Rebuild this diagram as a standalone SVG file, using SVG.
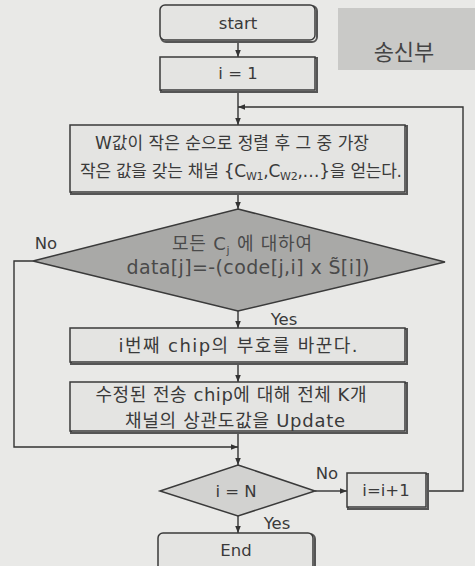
<svg xmlns="http://www.w3.org/2000/svg" width="475" height="566" viewBox="0 0 475 566">
<defs>
<marker id="ah" viewBox="0 0 10 10" refX="10" refY="5" markerWidth="7" markerHeight="7" orient="auto" markerUnits="userSpaceOnUse"><path d="M0,1 L10,5 L0,9 z" fill="#333"/></marker>
</defs>
<style>
.box{fill:#e4e4e2;stroke:#3a3a3a;stroke-width:1.5}
.sh{fill:none;stroke:#555;stroke-width:2}
.t{font-family:"DejaVu Sans","Noto Sans CJK KR",sans-serif;font-size:15px;fill:#3a3a3a;text-anchor:middle}
.n{font-size:16.5px}
.k{font-family:"DejaVu Sans","Noto Sans CJK KR",sans-serif;font-size:17px;fill:#3a3a3a;text-anchor:middle}
.c{fill:none;stroke:#333;stroke-width:1.4}
</style>
<rect x="0" y="0" width="475" height="566" fill="#e9e9e7"/>
<g id="label">
<rect x="338" y="8" width="137" height="62" fill="#c9c9c7"/>
<text x="404" y="60" class="k" style="font-size:22px;fill:#444">송신부</text>
</g>
<g id="connectors">
<line class="c" x1="238" y1="41" x2="238" y2="57" marker-end="url(#ah)"/>
<line class="c" x1="238" y1="91" x2="238" y2="125" marker-end="url(#ah)"/>
<line class="c" x1="238" y1="193" x2="238" y2="209" marker-end="url(#ah)"/>
<line class="c" x1="238" y1="311" x2="238" y2="328" marker-end="url(#ah)"/>
<line class="c" x1="238" y1="363" x2="238" y2="382" marker-end="url(#ah)"/>
<line class="c" x1="238" y1="432" x2="238" y2="465" marker-end="url(#ah)"/>
<polyline class="c" points="33,261 14,261 14,447 238,447" marker-end="url(#ah)"/>
<line class="c" x1="315" y1="491" x2="347" y2="491" marker-end="url(#ah)"/>
<polyline class="c" points="427,491 463,491 463,107 238,107" marker-end="url(#ah)"/>
<line class="c" x1="238" y1="516" x2="238" y2="533" marker-end="url(#ah)"/>
<text x="46" y="249" class="t n">No</text>
<text x="284" y="325" class="t n">Yes</text>
<text x="327" y="479" class="t n">No</text>
<text x="277" y="529" class="t n">Yes</text>
</g>
<g id="start">
<rect x="161" y="6" width="156" height="36" rx="5" class="sh"/>
<rect x="160" y="5" width="155" height="35" rx="5" class="box"/>
<text x="238" y="29" class="t n">start</text>
</g>
<g id="init">
<rect x="161" y="58" width="156" height="34" class="sh"/>
<rect x="160" y="57" width="155" height="33" class="box"/>
<text x="238" y="79" class="t n">i = 1</text>
</g>
<g id="sort">
<rect x="71" y="126" width="336" height="68" class="sh"/>
<rect x="70" y="125" width="335" height="67" class="box"/>
<text x="232" y="149" class="k" textLength="274" lengthAdjust="spacing">W값이 작은 순으로 정렬 후 그 중 가장</text>
<text x="241" y="177" class="k" textLength="322" lengthAdjust="spacing">작은 값을 갖는 채널 {C<tspan dy="3" style="font-size:11px">W1</tspan><tspan dy="-3">,C</tspan><tspan dy="3" style="font-size:11px">W2</tspan><tspan dy="-3">,…}을 얻는다.</tspan></text>
</g>
<g id="cond">
<polygon points="238,209 445,262 238,311 33,261" fill="#a9a9a7" stroke="#3a3a3a" stroke-width="1.5"/>
<text x="242" y="250" class="k" style="fill:#4a4a4a;font-size:18px" textLength="140" lengthAdjust="spacing">모든 C<tspan dy="4" style="font-size:11px">j</tspan><tspan dy="-4"> 에 대하여</tspan></text>
<text x="248" y="274" class="t" style="fill:#4a4a4a;font-size:19px" textLength="243" lengthAdjust="spacing">data[j]=-(code[j,i] x S̃[i])</text>
</g>
<g id="flip">
<rect x="71" y="329" width="336" height="35" class="sh"/>
<rect x="70" y="328" width="335" height="34" class="box"/>
<text x="238" y="352" class="k" style="font-size:18px" textLength="239" lengthAdjust="spacing">i번째 chip의 부호를 바꾼다.</text>
</g>
<g id="update">
<rect x="71" y="383" width="336" height="50" class="sh"/>
<rect x="70" y="382" width="335" height="49" class="box"/>
<text x="231" y="401" class="k" style="font-size:18px" textLength="271" lengthAdjust="spacing">수정된 전송 chip에 대해 전체 K개</text>
<text x="235" y="427" class="k" style="font-size:18px" textLength="220" lengthAdjust="spacing">채널의 상관도값을 Update</text>
</g>
<g id="check">
<polygon points="238,465 315,491 238,516 160,491" fill="#d2d2d0" stroke="#3a3a3a" stroke-width="1.5"/>
<text x="236" y="497" class="t n">i = N</text>
</g>
<g id="inc">
<rect x="348" y="474" width="80" height="35" class="sh"/>
<rect x="347" y="473" width="79" height="34" class="box"/>
<text x="386" y="496" class="t n">i=i+1</text>
</g>
<g id="end">
<rect x="159" y="534" width="156" height="40" rx="5" class="sh"/>
<rect x="158" y="533" width="155" height="40" rx="5" class="box"/>
<text x="236" y="556" class="t n">End</text>
</g>
</svg>
